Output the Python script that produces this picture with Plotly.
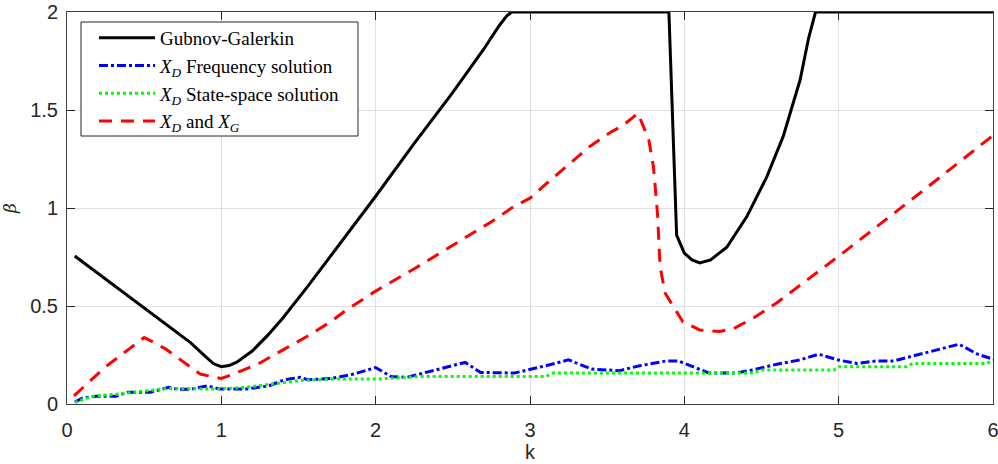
import plotly.graph_objects as go

# Gubnov-Galerkin (black)
k_gg = [0.05, 0.3, 0.5, 0.7, 0.8, 0.9, 0.95, 1.0, 1.05, 1.1, 1.2, 1.3, 1.4, 1.56, 1.77, 2.0, 2.25, 2.5, 2.7, 2.8, 2.85, 2.88,
        3.2, 3.5, 3.9, 3.925, 3.95, 4.0, 4.05, 4.1, 4.17, 4.275, 4.405, 4.535, 4.64, 4.75, 4.805, 4.85, 5.2, 5.6, 6.0]
b_gg = [0.755, 0.607, 0.49, 0.372, 0.313, 0.24, 0.205, 0.19, 0.196, 0.213, 0.27, 0.35, 0.44, 0.6, 0.82, 1.06, 1.33, 1.59, 1.81, 1.93, 1.98, 2.0,
        2.0, 2.0, 2.0, 1.43, 0.862, 0.77, 0.735, 0.72, 0.735, 0.80, 0.956, 1.16, 1.364, 1.653, 1.866, 2.0, 2.0, 2.0, 2.0]

# X_D Frequency solution (blue)
k_fr = [0.05, 0.1, 0.19, 0.32, 0.39, 0.54, 0.66, 0.72, 0.81, 0.91, 0.99, 1.16, 1.31, 1.41, 1.51, 1.56, 1.71, 1.86, 2.0, 2.1, 2.2,
        2.4, 2.58, 2.68, 2.9, 3.1, 3.25, 3.4, 3.52, 3.58, 3.71, 3.885, 3.96, 4.04, 4.16, 4.34, 4.45, 4.6, 4.75, 4.87, 5.0,
        5.12, 5.25, 5.36, 5.44, 5.57, 5.68, 5.78, 5.83, 5.9, 6.0]
b_fr = [0.01, 0.03, 0.04, 0.04, 0.06, 0.06, 0.085, 0.075, 0.076, 0.093, 0.076, 0.076, 0.093, 0.124, 0.136, 0.124, 0.13, 0.153, 0.186, 0.14, 0.136,
        0.178, 0.212, 0.161, 0.158, 0.195, 0.225, 0.178, 0.175, 0.17, 0.195, 0.22, 0.22, 0.195, 0.158, 0.158, 0.175, 0.203, 0.225, 0.254, 0.224,
        0.207, 0.22, 0.22, 0.237, 0.263, 0.285, 0.305, 0.283, 0.254, 0.229]

# X_D State-space solution (green)
k_ss = [0.05, 0.17, 0.32, 0.44, 0.61, 0.66, 0.96, 1.16, 1.31, 1.51, 1.71, 2.0, 2.2, 2.28, 3.1, 3.15, 3.7, 4.45, 4.49, 4.97, 5.0,
        5.44, 5.48, 5.96, 6.0]
b_ss = [0.008, 0.04, 0.05, 0.06, 0.076, 0.08, 0.076, 0.085, 0.10, 0.12, 0.127, 0.127, 0.136, 0.14, 0.14, 0.158, 0.158, 0.158, 0.173, 0.173, 0.19,
        0.19, 0.207, 0.207, 0.224]

# X_D and X_G (red)
k_dg = [0.045, 0.25, 0.5, 0.55, 0.64, 0.714, 0.863, 0.963, 1.0, 1.06, 1.236, 1.385, 1.56, 1.71, 1.81, 2.0, 2.25, 2.5, 2.75, 2.9, 3.0,
        3.1, 3.25, 3.385, 3.53, 3.6, 3.7, 3.77, 3.8, 3.826, 3.843, 3.876, 3.9, 3.99, 4.1, 4.23, 4.32, 4.45, 4.6, 5.01, 5.5, 6.0]
b_dg = [0.042, 0.19, 0.339, 0.32, 0.28, 0.237, 0.153, 0.136, 0.13, 0.147, 0.203, 0.27, 0.347, 0.42, 0.48, 0.576, 0.69, 0.81, 0.93, 1.01, 1.05,
        1.12, 1.22, 1.313, 1.39, 1.42, 1.483, 1.347, 1.21, 0.973, 0.70, 0.565, 0.534, 0.42, 0.378, 0.37, 0.385, 0.44, 0.517, 0.76, 1.06, 1.37]

x_ticks = [0, 1, 2, 3, 4, 5, 6]
y_ticks = [0, 0.5, 1, 1.5, 2]
y_ticklabels = ["0", "0.5", "1", "1.5", "2"]

W, H = 998, 464
ML, MR, MT, MB = 67, 5, 12, 60
PW, PH = W - ML - MR, H - MT - MB


def px_x(p):
    return (p - ML) / PW


def px_y(p):
    return 1 - (p - MT) / PH


fig = go.Figure()
fig.add_trace(go.Scatter(x=k_gg, y=b_gg, mode="lines", name="Gubnov-Galerkin",
                         line=dict(color="black", width=3)))
fig.add_trace(go.Scatter(x=k_fr, y=b_fr, mode="lines", name="<i>X</i><sub><i>D</i></sub> Frequency solution",
                         line=dict(color="#0000ff", width=3, dash="9px,3px,3px,3px")))
fig.add_trace(go.Scatter(x=k_ss, y=b_ss, mode="lines", name="<i>X</i><sub><i>D</i></sub> State-space solution",
                         line=dict(color="#00ff00", width=3, dash="3px,3px")))
fig.add_trace(go.Scatter(x=k_dg, y=b_dg, mode="lines", name="<i>X</i><sub><i>D</i></sub> and <i>X</i><sub><i>G</i></sub>",
                         line=dict(color="#ff0000", width=3, dash="13px,9px")))

axis_common = dict(showline=True, linecolor="#404040", linewidth=1, mirror="ticks",
                   ticks="inside", ticklen=8, tickcolor="#262626", tickwidth=1,
                   showgrid=True, gridcolor="#e0e0e0", gridwidth=1, zeroline=False,
                   automargin=False, ticklabeloverflow="allow",
                   tickfont=dict(family="Liberation Sans, Arial", size=20, color="#262626"))

fig.update_xaxes(range=[0, 6], tickvals=x_ticks, ticklabelstandoff=8,
                 title=dict(text="k", font=dict(family="Liberation Sans, Arial", size=20, color="#262626"), standoff=0),
                 **axis_common)
fig.update_yaxes(range=[0, 2], tickvals=y_ticks, ticktext=y_ticklabels, ticklabelstandoff=4,
                 title=dict(text="<i>β</i>", font=dict(family="DejaVu Serif", size=17, color="#262626"), standoff=14),
                 **axis_common)

# legend frame
fig.add_shape(type="rect", xref="paper", yref="paper",
              x0=px_x(81), x1=px_x(358), y0=px_y(136), y1=px_y(22),
              line=dict(color="#262626", width=1), fillcolor="white", layer="above")

fig.update_layout(
    width=W, height=H,
    margin=dict(l=ML, r=MR, t=MT, b=MB),
    plot_bgcolor="white", paper_bgcolor="white",
    legend=dict(x=px_x(94), y=px_y(19), xanchor="left", yanchor="top",
                bgcolor="rgba(0,0,0,0)", borderwidth=0,
                font=dict(family="Liberation Serif, Times New Roman", size=19, color="black"),
                itemwidth=56, tracegroupgap=0),
    showlegend=True,
)

fig.write_html("out.html", config={"displayModeBar": False},
               post_script="document.body.style.margin='0';document.body.style.padding='0';")
